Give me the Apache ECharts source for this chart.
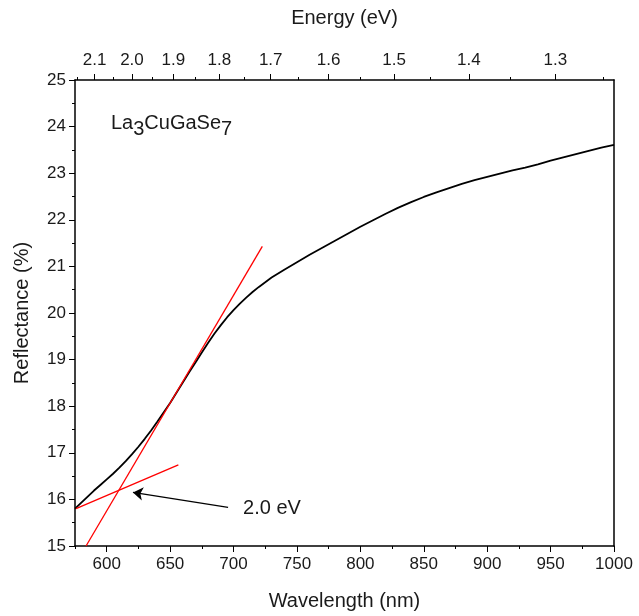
<!DOCTYPE html>
<html>
<head>
<meta charset="utf-8">
<style>
  html, body { margin: 0; padding: 0; background: #fff; }
  #chart { width: 639px; height: 616px; }
</style>
<script src="https://cdn.jsdelivr.net/npm/echarts@6/dist/echarts.min.js"></script>
</head>
<body>
<div id="chart"></div>
<script>
// reflectance spectrum (wavelength nm, reflectance %)
var wavelength = [575, 580, 585, 590, 595, 600, 605, 610, 615, 620, 625, 630, 635, 640, 645, 650, 655, 660, 665, 670,
    675, 680, 685, 690, 695, 700, 705, 710, 715, 720, 730, 740, 750, 760, 770, 780, 790, 800, 810, 820,
    830, 840, 850, 860, 870, 880, 890, 900, 910, 920, 930, 940, 950, 960, 970, 980, 990, 1000];
var reflectance = [15.80, 15.93, 16.06, 16.19, 16.31, 16.43, 16.55, 16.68, 16.82, 16.97, 17.13, 17.30, 17.48, 17.67, 17.87, 18.07, 18.29, 18.51, 18.73, 18.94,
    19.15, 19.36, 19.56, 19.74, 19.91, 20.06, 20.20, 20.33, 20.45, 20.56, 20.76, 20.93, 21.09, 21.25, 21.40, 21.55, 21.70, 21.85, 21.99, 22.13,
    22.26, 22.38, 22.49, 22.59, 22.68, 22.77, 22.85, 22.92, 22.99, 23.06, 23.12, 23.19, 23.27, 23.34, 23.41, 23.48, 23.55, 23.61];

// tangent lines used for the band gap estimate
var steepLine = [[583.7, 15.0], [722.7, 21.43]];
var shallowLine = [[575.8, 15.80], [656.5, 16.74]];
var arrowFrom = [695.7, 15.83];
var arrowTo = [620.7, 16.15];
var gapLabel = '2.0 eV';
var gapLabelAt = [707.5, 15.81];

// axes
var wavelengthTicks = [600, 650, 700, 750, 800, 850, 900, 950, 1000];
var wavelengthMinor = [575, 625, 675, 725, 775, 825, 875, 925, 975];
var energyTicks = [2.1, 2.0, 1.9, 1.8, 1.7, 1.6, 1.5, 1.4, 1.3];
var energyMinor = [2.15, 2.05, 1.95, 1.85, 1.75, 1.65, 1.55, 1.45, 1.35, 1.25];
var HC = 1239.84;

var myChart = echarts.init(document.getElementById('chart'));

var txt = '#1a1a1a';
var font = 'Liberation Sans';

function toNm(list) {
    return list.map(function (e) { return HC / e; });
}

var option = {
    animation: false,
    grid: { left: 75, right: 25, top: 80, bottom: 68 },
    xAxis: [
        {
            type: 'value', min: 575, max: 1000, position: 'bottom',
            name: 'Wavelength (nm)', nameLocation: 'middle', nameGap: 45,
            nameTextStyle: { fontSize: 20, color: txt, fontFamily: font },
            axisLine: { lineStyle: { color: '#000', width: 1.5 } },
            axisTick: { length: 6, lineStyle: { color: '#000' }, customValues: wavelengthTicks },
            axisLabel: {
                fontSize: 17, color: txt, fontFamily: font, margin: 10,
                customValues: wavelengthTicks,
                formatter: function (v) { return String(v); }
            },
            splitLine: { show: false }
        },
        {
            type: 'value', min: 575, max: 1000, position: 'top',
            name: 'Energy (eV)', nameLocation: 'middle', nameGap: 52,
            nameTextStyle: { fontSize: 20, color: txt, fontFamily: font },
            axisLine: { lineStyle: { color: '#000', width: 1.5 } },
            axisTick: { length: 6, lineStyle: { color: '#000' }, customValues: toNm(energyTicks) },
            axisLabel: {
                fontSize: 17, color: txt, fontFamily: font, margin: 11,
                customValues: toNm(energyTicks),
                formatter: function (v) { return (HC / v).toFixed(1); }
            },
            splitLine: { show: false }
        },
        {
            type: 'value', min: 575, max: 1000, position: 'bottom',
            axisLine: { show: false },
            axisTick: { length: 3, lineStyle: { color: '#000' }, customValues: wavelengthMinor },
            axisLabel: { show: false },
            splitLine: { show: false }
        },
        {
            type: 'value', min: 575, max: 1000, position: 'top',
            axisLine: { show: false },
            axisTick: { length: 3, lineStyle: { color: '#000' }, customValues: toNm(energyMinor) },
            axisLabel: { show: false },
            splitLine: { show: false }
        }
    ],
    yAxis: [
        {
            type: 'value', min: 15, max: 25, interval: 1, position: 'left',
            name: 'Reflectance (%)', nameLocation: 'middle', nameGap: 43,
            nameTextStyle: { fontSize: 20, color: txt, fontFamily: font },
            axisLine: { show: true, lineStyle: { color: '#000', width: 1.5 } },
            axisTick: { show: true, length: 6, lineStyle: { color: '#000' } },
            minorTick: { show: true, splitNumber: 2, length: 3, lineStyle: { color: '#000' } },
            axisLabel: { fontSize: 17, color: txt, fontFamily: font, margin: 9 },
            splitLine: { show: false }
        },
        {
            type: 'value', min: 15, max: 25, position: 'right',
            axisLine: { show: true, onZero: false, lineStyle: { color: '#000', width: 1.5 } },
            axisTick: { show: false },
            axisLabel: { show: false },
            splitLine: { show: false }
        }
    ],
    graphic: [
        {
            type: 'text', left: 111, top: 113,
            style: {
                text: '{n|La}{s|3}{n|CuGaSe}{s|7}',
                rich: {
                    n: { fontSize: 20, lineHeight: 26, verticalAlign: 'top', fill: txt, fontFamily: font },
                    s: { fontSize: 20, lineHeight: 26, verticalAlign: 'bottom', fill: txt, fontFamily: font }
                }
            }
        }
    ],
    series: [
        {
            name: 'R',
            type: 'line',
            showSymbol: false,
            data: wavelength.map(function (w, i) { return [w, reflectance[i]]; }),
            lineStyle: { color: '#000', width: 1.8 },
            z: 3
        },
        {
            name: 'steep',
            type: 'line',
            showSymbol: false,
            data: steepLine,
            lineStyle: { color: '#ff0000', width: 1.3 },
            z: 4
        },
        {
            name: 'shallow',
            type: 'line',
            showSymbol: false,
            data: shallowLine,
            lineStyle: { color: '#ff0000', width: 1.3 },
            z: 4,
            markLine: {
                silent: true,
                symbol: ['none', 'arrow'],
                symbolSize: 10,
                lineStyle: { color: '#000', width: 1.2, type: 'solid' },
                label: { show: false },
                data: [[{ coord: arrowFrom }, { coord: arrowTo }]]
            },
            markPoint: {
                silent: true,
                symbol: 'circle',
                symbolSize: 0,
                label: {
                    show: true, position: 'right', distance: 0,
                    formatter: gapLabel, fontSize: 20, color: txt, fontFamily: font
                },
                data: [{ coord: gapLabelAt }]
            }
        }
    ]
};

myChart.setOption(option);

window.addEventListener('resize', function () {
    myChart.resize();
});
</script>
</body>
</html>
